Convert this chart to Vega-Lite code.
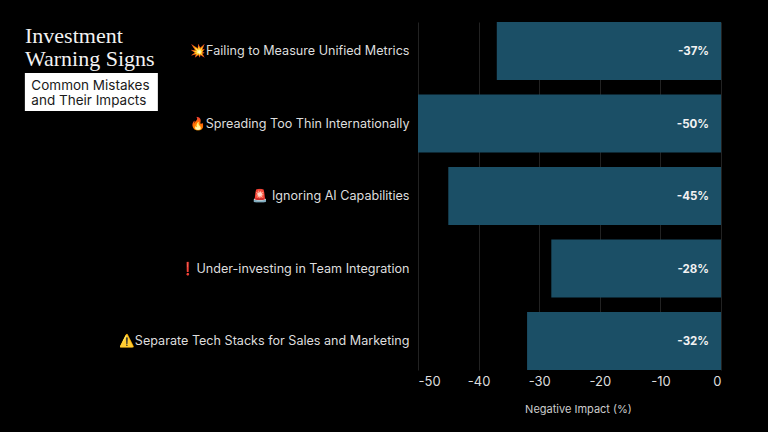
{
"$schema":"https://vega.github.io/schema/vega-lite/v6.json",
"width":303,"height":348,
"padding":{"left":418,"top":22,"right":47,"bottom":62},
"autosize":{"type":"none"},
"background":"#000000",
"title":{"text":["Investment","Warning Signs"],"anchor":"start","frame":"group","dx":-393,"dy":27,"offset":-22,"baseline":"top","font":"Liberation Serif","fontSize":22,"fontWeight":"normal","color":"#f2f2f2","lineHeight":23},
"data":{"values":[
{"item":"💥Failing to Measure Unified Metrics","impact":-37,"label":"-37%","line1":"Common Mistakes","line2":"and Their Impacts"},
{"item":"🔥Spreading Too Thin Internationally","impact":-50,"label":"-50%"},
{"item":"🚨 Ignoring AI Capabilities","impact":-45,"label":"-45%"},
{"item":"❗Under-investing in Team Integration","impact":-28,"label":"-28%"},
{"item":"⚠️Separate Tech Stacks for Sales and Marketing","impact":-32,"label":"-32%"}
]},
"config":{"view":{"stroke":null}},
"encoding":{
"y":{"field":"item","type":"nominal","sort":null,"title":null,"scale":{"paddingInner":0.2,"paddingOuter":0},"axis":{"domain":false,"ticks":false,"grid":false,"labelFont":"Inter","labelFontSize":12.6,"labelColor":"#dddddd","labelPadding":9,"labelLimit":330}},
"x":{"field":"impact","type":"quantitative","title":"Negative Impact (%)","scale":{"domain":[-50,0],"nice":false},"axis":{"values":[-50,-40,-30,-20,-10,0],"labelExpr":"''+datum.value","domain":false,"ticks":false,"grid":true,"gridColor":"#222222","gridWidth":1,"labelFont":"Inter","labelFontSize":13,"labelColor":"#dddddd","labelPadding":5,"titleFont":"Inter","titleFontSize":11,"titleFontWeight":"normal","titleColor":"#cccccc","titlePadding":15,"titleX":160}}
},
"layer":[
{"mark":{"type":"bar","color":"#1b4f66"}},
{"mark":{"type":"text","align":"right","baseline":"middle","dx":-12,"dy":1,"font":"Inter","fontSize":11.5,"fontWeight":"bold","color":"#f2f2f2"},"encoding":{"x":{"datum":0,"type":"quantitative"},"text":{"field":"label"}}},
{"transform":[{"filter":"isValid(datum.line1)"}],"mark":{"type":"rect","color":"#ffffff","width":133,"height":38,"yOffset":41,"clip":false},"encoding":{"x":{"datum":-103.9,"type":"quantitative"}}},
{"transform":[{"filter":"isValid(datum.line1)"}],"mark":{"type":"text","align":"left","baseline":"middle","font":"Inter","fontSize":13.5,"color":"#1a1a1a","yOffset":34.5,"dx":-60,"clip":false},"encoding":{"x":{"datum":-103.9,"type":"quantitative"},"text":{"field":"line1"}}},
{"transform":[{"filter":"isValid(datum.line2)"}],"mark":{"type":"text","align":"left","baseline":"middle","font":"Inter","fontSize":13.5,"color":"#1a1a1a","yOffset":50,"dx":-60,"clip":false},"encoding":{"x":{"datum":-103.9,"type":"quantitative"},"text":{"field":"line2"}}}
]
}
